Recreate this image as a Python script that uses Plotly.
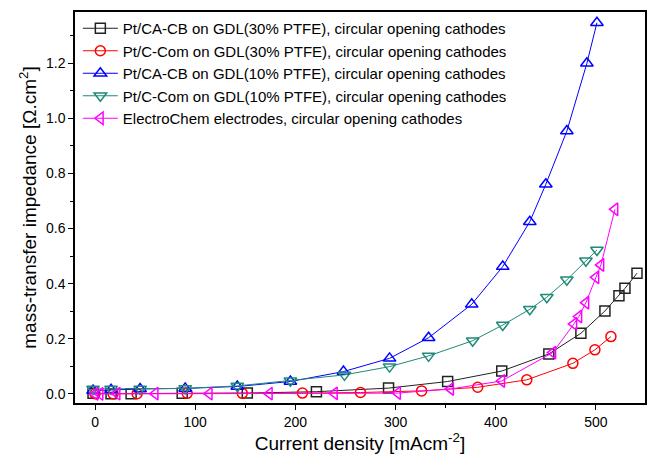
import plotly.graph_objects as go

# Data
names = [
    "Pt/CA-CB on GDL(30% PTFE), circular opening cathodes",
    "Pt/C-Com on GDL(30% PTFE), circular opening cathodes",
    "Pt/CA-CB on GDL(10% PTFE), circular opening cathodes",
    "Pt/C-Com on GDL(10% PTFE), circular opening cathodes",
    "ElectroChem electrodes, circular opening cathodes",
]

x_sq = [-2, 16, 36, 87, 152, 221, 293, 352, 406, 453, 485, 509, 523, 529, 541]
y_sq = [0.002, 0.001, 0.001, 0.002, 0.003, 0.008, 0.021, 0.045, 0.083, 0.145, 0.22, 0.301, 0.356, 0.383, 0.438]

x_ci = [0, 18, 42, 92, 147, 207, 265, 326, 382, 431, 477, 499, 515]
y_ci = [0.001, 0.001, 0.001, 0.002, 0.002, 0.003, 0.005, 0.011, 0.024, 0.051, 0.111, 0.16, 0.208]

x_up = [-2, 16, 45, 90, 142, 195, 248, 294, 333, 376, 407, 434, 450, 471, 491, 501]
y_up = [0.012, 0.015, 0.018, 0.02, 0.027, 0.045, 0.081, 0.129, 0.204, 0.325, 0.462, 0.625, 0.761, 0.954, 1.20, 1.347]

x_dn = [-2, 16, 45, 90, 142, 195, 249, 294, 333, 377, 407, 434, 451, 471, 490, 501]
y_dn = [0.018, 0.018, 0.018, 0.02, 0.029, 0.048, 0.069, 0.099, 0.138, 0.193, 0.25, 0.307, 0.351, 0.414, 0.483, 0.522]

x_lt = [0, 5, 22, 60, 114, 174, 239, 302, 355, 406, 457, 478, 483, 490, 500, 505, 519]
y_lt = [0.0, 0.0, 0.001, 0.001, 0.001, 0.001, 0.002, 0.003, 0.018, 0.047, 0.15, 0.254, 0.281, 0.331, 0.423, 0.468, 0.67]

xs = [x_sq, x_ci, x_up, x_dn, x_lt]
ys = [y_sq, y_ci, y_up, y_dn, y_lt]
colors = ["#222222", "#ff0000", "#0000ff", "#1f8a78", "#ff00ff"]
symbols = ["square-open", "circle-open", "triangle-up-open", "triangle-down-open", "triangle-left-open"]
sizes = [10, 10, 11, 11, 11]

fig = go.Figure()
for n, x, y, c, s, sz in zip(names, xs, ys, colors, symbols, sizes):
    fig.add_trace(go.Scatter(
        x=x, y=y, name=n, mode="lines+markers",
        line=dict(color=c, width=1),
        marker=dict(symbol=s, size=sz, color=c, line=dict(color=c, width=1.5)),
    ))

axis_common = dict(
    showline=True, linecolor="black", linewidth=1.5, mirror=True,
    ticks="outside", ticklen=5, tickwidth=1, tickcolor="black",
    showgrid=False, zeroline=False,
    tickfont=dict(size=14, color="black"),
)

fig.update_layout(
    width=652, height=454,
    margin=dict(l=75, r=5, t=12, b=51),
    plot_bgcolor="white", paper_bgcolor="white",
    font=dict(family="Liberation Sans, Arial, sans-serif", color="black"),
    xaxis=dict(range=[-20, 549], dtick=100, tick0=0,
               minor=dict(dtick=50, ticks="outside", ticklen=3, tickcolor="black"),
               title=dict(text="Current density [mAcm<sup>-2</sup>]", font=dict(size=19), standoff=2),
               **axis_common),
    yaxis=dict(range=[-0.033, 1.386], dtick=0.2, tick0=0, tickformat=".1f",
               minor=dict(dtick=0.1, ticks="outside", ticklen=3, tickcolor="black"),
               title=dict(text="mass-transfer impedance [Ω.cm<sup>2</sup>]", font=dict(size=19), standoff=4),
               **axis_common),
    legend=dict(x=0.005, y=1.0, xanchor="left", yanchor="top",
                bgcolor="rgba(0,0,0,0)", font=dict(size=15),
                tracegroupgap=0, itemwidth=35),
)

fig.write_html("out.html")
